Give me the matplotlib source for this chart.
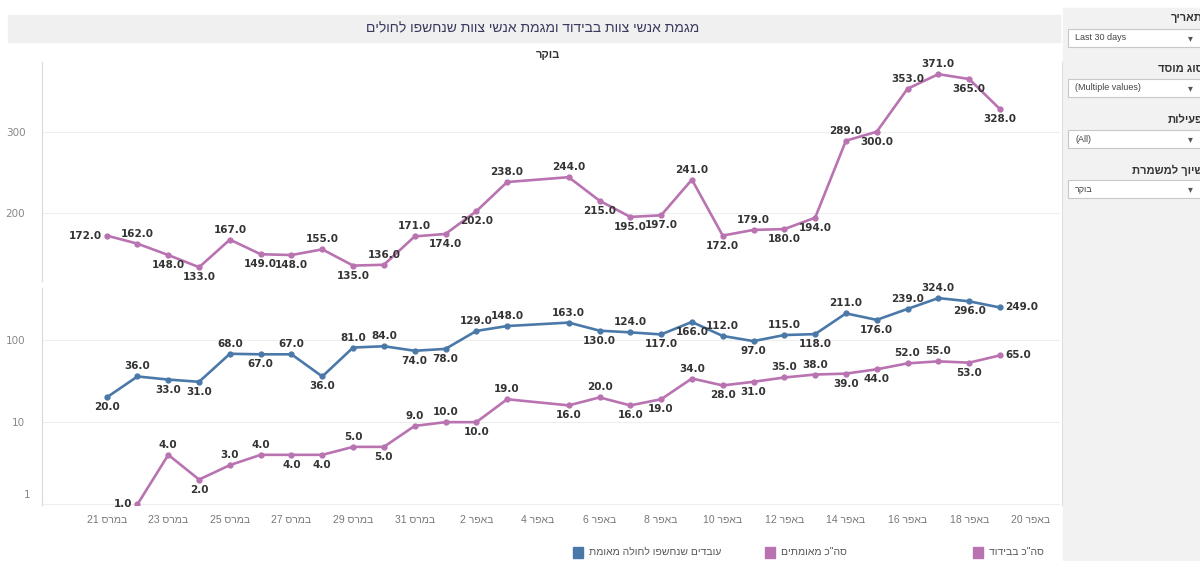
import re
import numpy as np
import matplotlib
matplotlib.use("Agg")
import matplotlib.pyplot as plt
import matplotlib.dates as mdates
from matplotlib.patches import Rectangle
from matplotlib.lines import Line2D
from matplotlib.ticker import NullLocator
from matplotlib.transforms import blended_transform_factory, offset_copy

# ---- data (no report on 2020-04-04) ----
dates = np.array(['2020-03-21', '2020-03-22', '2020-03-23', '2020-03-24', '2020-03-25',
                  '2020-03-26', '2020-03-27', '2020-03-28', '2020-03-29', '2020-03-30',
                  '2020-03-31', '2020-04-01', '2020-04-02', '2020-04-03',
                  '2020-04-05', '2020-04-06', '2020-04-07', '2020-04-08', '2020-04-09',
                  '2020-04-10', '2020-04-11', '2020-04-12', '2020-04-13', '2020-04-14',
                  '2020-04-15', '2020-04-16', '2020-04-17', '2020-04-18', '2020-04-19'],
                 dtype='datetime64[D]')

isolation = [172, 162, 148, 133, 167, 149, 148, 155, 135, 136, 171, 174, 202, 238,
             244, 215, 195, 197, 241, 172, 179, 180, 194, 289, 300, 353, 371, 365, 328]
exposed = [20, 36, 33, 31, 68, 67, 67, 36, 81, 84, 74, 78, 129, 148,
           163, 130, 124, 117, 166, 112, 97, 115, 118, 211, 176, 239, 324, 296, 249]
confirmed = [np.nan, 1, 4, 2, 3, 4, 4, 4, 5, 5, 9, 10, 10, 19,
             16, 20, 16, 19, 34, 28, 31, 35, 38, 39, 44, 52, 55, 53, 65]

# where tableau put each mark label: a=above b=below l=left r=right
iso_pos = list('labbabbabaabba' + 'abbbababbabaabb')
exp_pos = list('babbababaabbaa' + 'ababbabababaabr')
conf_pos = list('-labaabbabaaba' + 'babbabbaabbaabr')

title = 'מגמת אנשי צוות בבידוד ומגמת אנשי צוות שנחשפו לחולים'
subtitle = 'בוקר'
month_names = {3: 'במרס', 4: 'באפר'}
legend_names = ['עובדים שנחשפו לחולה מאומת', 'סה"כ מאומתים', 'סה"כ בבידוד']

BLUE = '#4a79a9'
PINK = '#b873b0'
HEB = ['Liberation Sans', 'DejaVu Sans']


def vis(s):
    # matplotlib has no bidi, so flip hebrew to visual order but keep numbers
    r = s[::-1]
    return re.sub(r'[0-9.]+', lambda m: m.group(0)[::-1], r)


W, H = 1200, 561
def fx(px): return px / W
def fy(py): return 1 - py / H


fig = plt.figure(figsize=(12, 5.61), dpi=100)

# right filter strip
fig.add_artist(Rectangle((fx(1063), 0), 1, fy(8), transform=fig.transFigure,
                         color='#f2f2f2', zorder=0))
# title bar
fig.add_artist(Rectangle((fx(8), fy(42)), fx(1060) - fx(8), fy(15) - fy(42),
                         transform=fig.transFigure, color='#f0f0f0', zorder=0))
fig.text(fx(533), fy(28), vis(title), ha='center', va='center', fontsize=10,
         color='#3a3a60', family=HEB)
fig.text(fx(548), fy(55), vis(subtitle), ha='center', va='center', fontsize=8,
         color='#333333', family=HEB, weight='bold')
fig.add_artist(Line2D([fx(1062), fx(1062)], [fy(505), fy(62)], transform=fig.transFigure,
                      color='#e0e0e0', lw=0.8))

ax1 = fig.add_axes([fx(42), fy(281), fx(1060) - fx(42), fy(62) - fy(281)])
ax2 = fig.add_axes([fx(42), fy(505), fx(1060) - fx(42), fy(288) - fy(505)], sharex=ax1)

x = mdates.date2num(dates)

offs = {'a': ((0, 5), 'center', 'bottom'), 'b': ((0, -5), 'center', 'top'),
        'l': ((-5, 0), 'right', 'center'), 'r': ((5, 0), 'left', 'center')}


def label_points(ax, xs, ys, pos):
    for xi, yi, p in zip(xs, ys, pos):
        if p == '-' or np.isnan(yi):
            continue
        off, ha, va = offs[p]
        ax.annotate('%.1f' % yi, (xi, yi), xytext=off, textcoords='offset pixels',
                    ha=ha, va=va, fontsize=7.5, weight='bold', color='#333333',
                    family='DejaVu Sans', annotation_clip=False)


ax1.plot(x, isolation, color=PINK, lw=1.9, marker='o', ms=3.5)
label_points(ax1, x, isolation, iso_pos)

ax2.plot(x, exposed, color=BLUE, lw=1.9, marker='o', ms=3.5)
ax2.plot(x, confirmed, color=PINK, lw=1.9, marker='o', ms=3.5)
label_points(ax2, x, exposed, exp_pos)
label_points(ax2, x, confirmed, conf_pos)

ax1.set_ylim(116, 386)
ax1.set_yticks([200, 300])
ax2.set_yscale('log')
ax2.set_ylim(0.98, 430)
ax2.set_yticks([1, 10, 100])
ax2.set_yticklabels(['', '10', '100'])
ax2.yaxis.set_minor_locator(NullLocator())
# tableau nudges the bottom "1" label up off the edge
tr = offset_copy(blended_transform_factory(ax2.transAxes, ax2.transData), fig=fig,
                 x=-12, y=9, units='dots')
ax2.text(0, 1, '1', transform=tr, ha='right', va='center', fontsize=7.5, color='#888888')

x0 = mdates.date2num(np.datetime64('2020-03-21'))
ax1.set_xlim(x0 - 2.1, x0 + 30.95)
tick_dates = np.arange(np.datetime64('2020-03-21'), np.datetime64('2020-04-21'), 2)
ax2.set_xticks(mdates.date2num(tick_dates))
ax2.set_xticklabels([vis('%s %d' % (month_names[d.astype(object).month], d.astype(object).day))
                     for d in tick_dates], family=HEB)

for ax in (ax1, ax2):
    for s in ('top', 'right', 'bottom'):
        ax.spines[s].set_visible(False)
    ax.spines['left'].set_color('#d9d9d9')
    ax.grid(axis='y', color='#eeeeee', lw=0.8)
    ax.set_axisbelow(True)
    ax.tick_params(axis='y', length=0, pad=12, labelsize=7.5, labelcolor='#888888')
    ax.tick_params(axis='x', length=0, pad=7, labelsize=7.5, labelcolor='#777777')
    ax.patch.set_alpha(0)
ax1.tick_params(labelbottom=False)

# legend
leg_x = [573, 765, 973]
leg_c = [BLUE, PINK, PINK]
for lx, c, name in zip(leg_x, leg_c, legend_names):
    fig.add_artist(Rectangle((fx(lx), fy(558)), fx(10), fy(547) - fy(558),
                             transform=fig.transFigure, color=c))
    fig.text(fx(lx + 16), fy(552), vis(name), ha='left', va='center', fontsize=7.5,
             color='#555555', family=HEB)

# filter widgets on the right (clipped at the figure edge like the screenshot)
filters = [('תאריך', 'Last 30 days', 18, 38),
           ('סוג מוסד', '(Multiple values)', 69, 88),
           ('פעילות', '(All)', 120, 139),
           ('שיוך למשמרת', 'בוקר', 170, 189)]
for lab, val, ly, vy in filters:
    fig.text(fx(1203), fy(ly), vis(lab), ha='right', va='center', fontsize=8,
             weight='bold', color='#333333', family=HEB)
    fig.add_artist(Rectangle((fx(1068), fy(vy + 9)), fx(140), fy(vy - 9) - fy(vy + 9),
                             transform=fig.transFigure, facecolor='white',
                             edgecolor='#c8c8c8', lw=0.8))
    txt = vis(val) if re.search('[\u0590-\u05ff]', val) else val
    fig.text(fx(1075), fy(vy), txt, ha='left', va='center', fontsize=6.5,
             color='#444444', family=HEB)
    fig.text(fx(1190), fy(vy), '▾', ha='center', va='center', fontsize=7,
             color='#555555', family='DejaVu Sans')

fig.savefig('out.png', dpi=100)
